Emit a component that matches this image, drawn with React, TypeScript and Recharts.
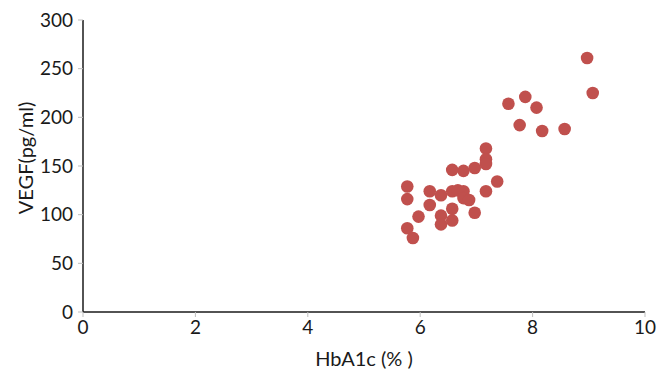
import React from 'react'
import { ScatterChart, Scatter, XAxis, YAxis, Label } from 'recharts'

// HbA1c (%) vs VEGF (pg/ml), one entry per patient
const hba1c = [
  8.97, 9.07, 7.87, 7.57, 8.07, 7.77, 8.17, 8.57,
  7.17, 7.17, 7.17, 7.37, 7.17, 6.97, 6.77, 6.57,
  5.77, 5.77, 6.17, 6.37, 6.57, 6.67, 6.77, 6.77, 6.87,
  6.17, 6.57, 6.97, 5.97, 6.37, 6.37, 6.57, 5.77, 5.87,
]
const vegf = [
  261, 225, 221, 214, 210, 192, 186, 188,
  168, 157, 152, 134, 124, 148, 145, 146,
  129, 116, 124, 120, 124, 125, 124, 117, 115,
  110, 106, 102, 98, 99, 90, 94, 86, 76,
]
const xTicks = [0, 2, 4, 6, 8, 10]
const yTicks = [0, 50, 100, 150, 200, 250, 300]

const points = hba1c.map((x, i) => ({ x, y: vegf[i] }))

const font = 'Lato, "Open Sans", sans-serif'
const tickStyle = { fill: '#1a1a1a', fontSize: 19, fontFamily: font }
const labelStyle = { fill: '#1a1a1a', fontSize: 20, fontFamily: font }

const Dot = (props: any) => <circle cx={props.cx} cy={props.cy} r={6.3} fill="#c0504d" />

const App: React.FC = () => {
  return (
    <div style={{ position: 'absolute', left: 0, top: 0, background: '#fff' }}>
      <ScatterChart width={670} height={376} margin={{ top: 20, right: 25, left: 0, bottom: 0 }}>
        <XAxis
          type="number"
          dataKey="x"
          domain={[0, 10]}
          ticks={xTicks}
          height={64}
          stroke="#1a1a1a"
          strokeWidth={1.5}
          tickLine={{ stroke: '#bfbfbf', strokeWidth: 1 }}
          tickSize={5}
          tickMargin={4}
          tick={tickStyle}
        >
          <Label value="HbA1c (% )" position="insideBottom" offset={10} style={labelStyle} />
        </XAxis>
        <YAxis
          type="number"
          dataKey="y"
          domain={[0, 300]}
          ticks={yTicks}
          width={83}
          stroke="#1a1a1a"
          strokeWidth={1.5}
          tickLine={{ stroke: '#bfbfbf', strokeWidth: 1 }}
          tickSize={5}
          tickMargin={5}
          tick={tickStyle}
        >
          <Label
            content={({ viewBox }: any) => {
              const cy = viewBox.y + viewBox.height / 2 - 8
              return (
                <text
                  x={25}
                  y={cy}
                  transform={`rotate(-90, 25, ${cy})`}
                  textAnchor="middle"
                  dominantBaseline="central"
                  style={labelStyle}
                >
                  VEGF(pg/ml)
                </text>
              )
            }}
          />
        </YAxis>
        <Scatter data={points} fill="#c0504d" shape={Dot} isAnimationActive={false} />
      </ScatterChart>
    </div>
  )
}

export default App
